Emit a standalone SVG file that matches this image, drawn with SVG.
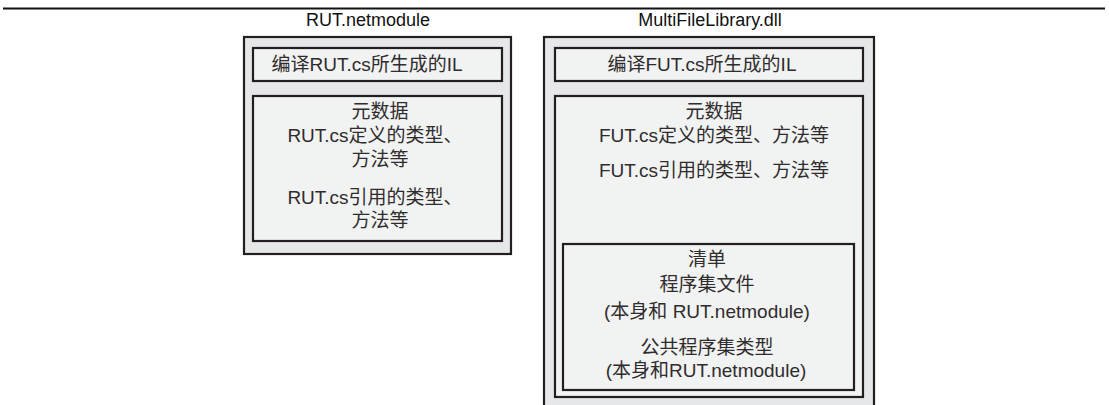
<svg xmlns="http://www.w3.org/2000/svg" width="1109" height="405" viewBox="0 0 1109 405">
<style>
.outer{fill:#e6e7e8;stroke:#231f20;stroke-width:2.2}
.inner{fill:#f1f2f2;stroke:#231f20;stroke-width:2.2}
text{font-family:"Liberation Sans","Noto Sans CJK SC",sans-serif;fill:#302c2d;font-size:19px;text-anchor:middle}
.title{font-size:18px;fill:#111}
</style>
<rect x="0" y="0" width="1109" height="405" fill="#ffffff"/>
<line x1="3" y1="8.5" x2="1105" y2="8.5" stroke="#111" stroke-width="2.2"/>
<g id="rut-netmodule">
  <text class="title" x="368" y="26">RUT.netmodule</text>
  <rect class="outer" x="244" y="37" width="267" height="217"/>
  <g id="rut-il">
    <rect class="inner" x="253" y="48" width="249" height="33"/>
    <text x="367" y="71">编译RUT.cs所生成的IL</text>
  </g>
  <g id="rut-metadata">
    <rect class="inner" x="253" y="96" width="249" height="145"/>
    <text x="378"><tspan x="380" y="118">元数据</tspan><tspan x="375" y="142">RUT.cs定义的类型、</tspan><tspan x="380" y="166">方法等</tspan><tspan x="375" y="204">RUT.cs引用的类型、</tspan><tspan x="380" y="227">方法等</tspan></text>
  </g>
</g>
<g id="multifilelibrary">
  <text class="title" x="710" y="26">MultiFileLibrary.dll</text>
  <rect class="outer" x="544" y="37" width="330" height="380"/>
  <g id="fut-il">
    <rect class="inner" x="555" y="48" width="308" height="33"/>
    <text x="702" y="71">编译FUT.cs所生成的IL</text>
  </g>
  <g id="fut-metadata">
    <rect class="inner" x="555" y="96" width="308" height="301"/>
    <text x="714"><tspan x="714" y="118">元数据</tspan><tspan x="714" y="142">FUT.cs定义的类型、方法等</tspan><tspan x="714" y="177">FUT.cs引用的类型、方法等</tspan></text>
  </g>
  <g id="manifest">
    <rect class="inner" x="563" y="244" width="291" height="146"/>
    <text x="707"><tspan x="707" y="266">清单</tspan><tspan x="707" y="291">程序集文件</tspan><tspan x="707" y="318">(本身和 RUT.netmodule)</tspan><tspan x="707" y="354">公共程序集类型</tspan><tspan x="706" y="377">(本身和RUT.netmodule)</tspan></text>
  </g>
</g>
<g id="connectors"/>
</svg>
